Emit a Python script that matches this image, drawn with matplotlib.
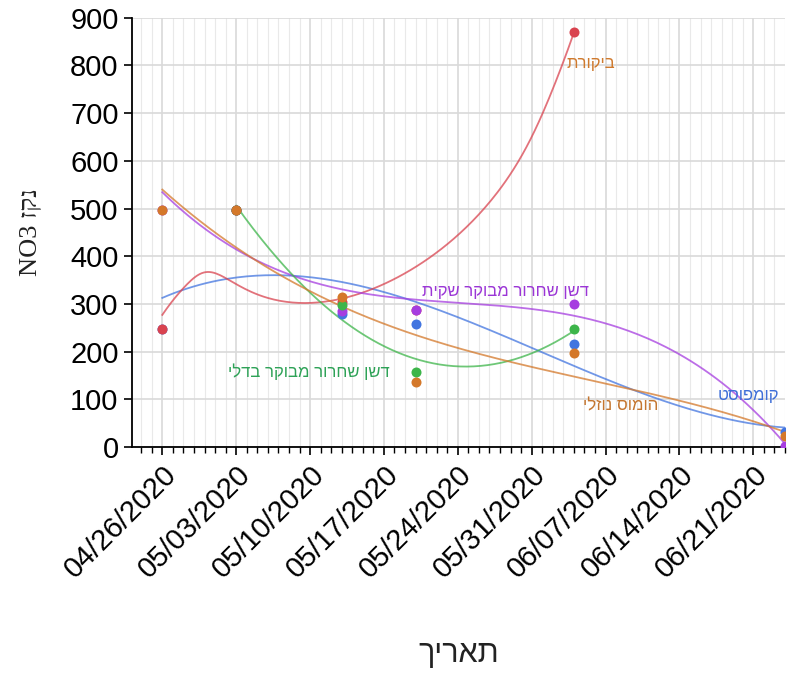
# NO3 in drainage water over time, one trend line per treatment

import numpy as np
import matplotlib
matplotlib.use("Agg")
import matplotlib.pyplot as plt
import matplotlib.dates as mdates

# Sampling dates and measured NO3 per treatment (nan = not sampled)
dates = ["2020-04-26", "2020-05-03", "2020-05-13", "2020-05-20", "2020-06-04", "2020-06-24"]
control = [248, 497, 305, 288, 870, np.nan]          # ביקורת
bucket = [np.nan, 497, 298, 158, 248, np.nan]        # דשן שחרור מבוקר בדלי
bag = [497, 497, 286, 288, 300, 2]                   # דשן שחרור מבוקר שקית
compost = [248, 497, 278, 258, 216, 32]              # קומפוסט
humus = [497, 497, 315, 137, 198, 23]                # הומוס נוזלי

# Hebrew names (logical order)
names = ["ביקורת", "דשן שחרור מבוקר בדלי", "דשן שחרור מבוקר שקית", "קומפוסט", "הומוס נוזלי"]


# matplotlib has no bidi support, so Hebrew is reversed into visual order
def heb(s):
    return s[::-1]


# Local quadratic smoother (tricube weights, fixed bandwidth) for the control trend
def loess(tp, yp, tt, span=0.95, deg=2):
    h = (tp.max() - tp.min()) * span
    out = []
    for x0 in tt:
        d = np.abs(tp - x0)
        w = np.clip(1 - (d / h) ** 3, 0, 1) ** 3
        out.append(np.polyval(np.polyfit(tp, yp, deg, w=np.sqrt(w)), x0))
    return np.array(out)


# Setting fonts
plt.rcParams["font.family"] = ["Liberation Sans", "DejaVu Sans"]

x = mdates.date2num(np.array(dates, dtype="datetime64[D]"))
t = x - x[0]

fig = plt.figure(figsize=(7.91, 6.73), dpi=100)
ax = fig.add_axes([0.1665, 0.3358, 0.8259, 0.6379])

# (values, point colour, fit, label position (days, value), label colour, name)
series = [
    (compost, "#4275e0", 3, (55.5, 107), "#3f6fd8", names[3]),
    (control, "#d9434f", "loess", (40.6, 805), "#cf7a2e", names[0]),
    (bag, "#a63de0", 3, (32.5, 327), "#9b36d6", names[2]),
    (bucket, "#3db54a", 2, (13.9, 157), "#2ea257", names[1]),
    (humus, "#d4782a", 3, (43.4, 86), "#c47630", names[4]),
]

for vals, col, fit, lpos, lcol, name in series:
    vals = np.array(vals, dtype=float)
    ok = ~np.isnan(vals)
    tt = np.linspace(t[ok].min(), t[ok].max(), 200)
    # Trend line fitted to the measured points
    if fit == "loess":
        yy = loess(t[ok], vals[ok], tt)
    else:
        yy = np.polyval(np.polyfit(t[ok], vals[ok], fit), tt)
    ax.plot(x[0] + tt, yy, color=col, lw=1.3, alpha=0.75, zorder=3)
    ax.scatter(x[ok], vals[ok], s=52, color=col, zorder=4, linewidths=0)
    ax.text(x[0] + lpos[0], lpos[1], heb(name), color=lcol, fontsize=12,
            ha="center", va="center", zorder=5)

# Axes limits and ticks
ax.set_xlim(x[0] - 2.9, x[-1])
ax.set_ylim(0, 900)
ax.set_yticks(np.arange(0, 901, 100))
ax.xaxis.set_major_locator(mdates.WeekdayLocator(byweekday=mdates.SU))
ax.xaxis.set_minor_locator(mdates.DayLocator())
ax.xaxis.set_major_formatter(mdates.DateFormatter("%m/%d/%Y"))
plt.setp(ax.get_xticklabels(), rotation=45, ha="right", rotation_mode="anchor")
ax.tick_params(axis="both", which="major", labelsize=21, length=6, width=1.2, color="black")
ax.tick_params(axis="x", which="minor", length=4, width=1.0, color="black")

# Grid
ax.grid(True, which="major", color="#d9d9d9", lw=1.2, zorder=0)
ax.grid(True, which="minor", axis="x", color="#e9e9e9", lw=0.8, zorder=0)
ax.set_axisbelow(True)

for side in ["top", "right"]:
    ax.spines[side].set_visible(False)
for side in ["left", "bottom"]:
    ax.spines[side].set_linewidth(1.3)
    ax.spines[side].set_color("black")

# Axis titles
ax.set_xlabel(heb("תאריך"), fontsize=22, labelpad=40, color="#222222")
ax.set_ylabel("NO3 " + heb("נקז"), fontsize=19, labelpad=20, color="#222222",
              family=["Liberation Serif", "DejaVu Sans"])

fig.savefig("out.png", dpi=100)
